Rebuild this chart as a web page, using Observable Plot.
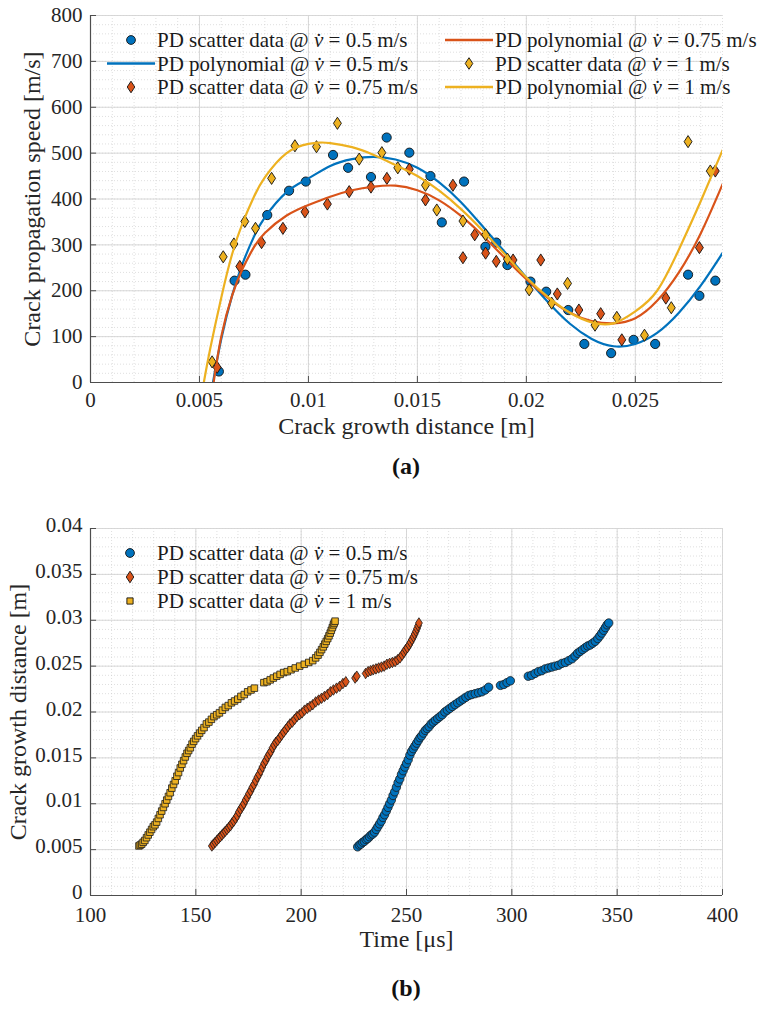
<!DOCTYPE html>
<html><head><meta charset="utf-8">
<script src="https://cdn.jsdelivr.net/npm/d3@7"></script>
<script src="https://cdn.jsdelivr.net/npm/@observablehq/plot@0.6"></script>
<style>
body{margin:0;background:#fff;width:767px;height:1015px;position:relative;overflow:hidden;font-family:"Liberation Serif",serif;}
.panel{position:absolute;left:0;}
.cap{position:absolute;left:0;width:812px;text-align:center;font:bold 24px "Liberation Serif",serif;color:#111;line-height:28px;}
</style></head><body>
<div id="pa" class="panel" style="top:0px"></div>
<div class="cap" style="top:452px">(a)</div>
<div id="pb" class="panel" style="top:500px"></div>
<div class="cap" style="top:974px">(b)</div>
<script>
// ---------- (a) Crack propagation speed vs crack growth distance ----------
const aScatter05 = [[0.00589,24],[0.00661,222],[0.00711,235],[0.00811,365],[0.00911,418],[0.00988,438],[0.01113,496],[0.01182,468],[0.01287,448],[0.01359,534],[0.01463,501],[0.0156,450],[0.01612,349],[0.01714,438],[0.01812,296],[0.01862,305],[0.01913,256],[0.02019,220],[0.02091,198],[0.02192,158],[0.02266,84],[0.02389,64],[0.02492,93],[0.02591,84],[0.02742,235],[0.02794,189],[0.02867,222]];
const aScatter075 = [[0.00581,33],[0.00685,253],[0.00785,305],[0.00883,336],[0.00984,372],[0.01087,389],[0.01187,416],[0.01287,426],[0.0136,445],[0.01463,465],[0.01537,398],[0.01663,430],[0.01709,272],[0.01763,322],[0.01813,282],[0.01862,264],[0.01939,267],[0.02066,267],[0.02142,193],[0.02241,158],[0.02341,150],[0.02438,93],[0.0264,184],[0.02794,294],[0.02867,461]];
const aScatter1 = [[0.00558,45],[0.00609,274],[0.00658,302],[0.00708,351],[0.00757,336],[0.00831,445],[0.00938,516],[0.01037,514],[0.01133,565],[0.01233,487],[0.01337,501],[0.0141,468],[0.01537,430],[0.01589,376],[0.01709,352],[0.01813,322],[0.01913,269],[0.02013,202],[0.02116,173],[0.02189,216],[0.02315,125],[0.02415,142],[0.02542,103],[0.02665,163],[0.02742,525],[0.02844,461]];

const aPoly05X = [0.00562,0.006,0.0065,0.007,0.0075,0.008,0.009,0.01,0.011,0.012,0.013,0.014,0.015,0.016,0.017,0.018,0.019,0.02,0.021,0.022,0.023,0.024,0.025,0.026,0.027,0.028,0.029];
const aPoly05V = [0,95,190,262,318,360,415,445,472,487,492,486,468,436,393,340,285,229,175,128,95,79,84,108,152,211,282];
const aPoly075X = [0.00565,0.006,0.0065,0.007,0.0075,0.008,0.009,0.01,0.011,0.012,0.013,0.014,0.015,0.016,0.017,0.018,0.019,0.02,0.021,0.022,0.023,0.024,0.025,0.026,0.027,0.028,0.029];
const aPoly075V = [0,100,190,250,295,326,364,387,405,419,427,429,419,397,363,320,272,225,184,152,134,129,140,178,240,325,432];
const aPoly1X = [0.0052,0.0055,0.006,0.0065,0.007,0.0075,0.008,0.009,0.01,0.0105,0.011,0.012,0.013,0.014,0.015,0.016,0.017,0.018,0.019,0.02,0.021,0.022,0.023,0.024,0.025,0.026,0.027,0.028,0.029];
const aPoly1V = [0,75,185,280,350,405,447,500,520,523,522,513,496,474,450,418,378,331,280,229,186,152,131,129,155,200,290,395,506];

const aTickX = [0,0.005,0.01,0.015,0.02,0.025];
const aTickXLabels = ["0","0.005","0.01","0.015","0.02","0.025"];
const aTickY = [0,100,200,300,400,500,600,700,800];
const aTickYLabels = ["0","100","200","300","400","500","600","700","800"];

// ---------- (b) Crack growth distance vs time ----------
const bScatter05 = [[226.8,0.0053],[227.6,0.0055],[228.4,0.0056],[229.2,0.0058],[230.0,0.0059],[230.8,0.0061],[231.6,0.0062],[232.4,0.0064],[233.2,0.0066],[234.0,0.0067],[234.8,0.0069],[235.6,0.0072],[236.4,0.0075],[237.2,0.0078],[238.0,0.0081],[238.8,0.0085],[239.6,0.0088],[240.4,0.0092],[241.2,0.0096],[242.0,0.0100],[242.8,0.0104],[243.6,0.0109],[244.4,0.0113],[245.2,0.0118],[246.0,0.0123],[246.8,0.0127],[247.6,0.0132],[248.4,0.0136],[249.2,0.0140],[250.0,0.0144],[250.8,0.0148],[251.6,0.0153],[252.4,0.0157],[253.2,0.0160],[254.0,0.0163],[254.8,0.0166],[255.6,0.0169],[256.4,0.0172],[257.2,0.0174],[258.0,0.0177],[258.9,0.0180],[259.8,0.0182],[260.7,0.0184],[261.7,0.0187],[262.7,0.0189],[263.7,0.0191],[264.8,0.0193],[265.9,0.0195],[267.0,0.0197],[268.2,0.0200],[269.4,0.0202],[270.6,0.0204],[271.8,0.0206],[273.0,0.0208],[274.3,0.0210],[275.6,0.0212],[276.9,0.0214],[278.2,0.0216],[279.6,0.0218],[281.0,0.0219],[282.6,0.0220],[284.2,0.0221],[285.8,0.0222],[287.4,0.0224],[289.0,0.0227],[294.6,0.0229],[296.2,0.0230],[297.7,0.0232],[299.3,0.0234],[307.8,0.0239],[309.4,0.0240],[311.0,0.0242],[312.6,0.0244],[314.2,0.0245],[315.8,0.0247],[317.4,0.0248],[319.0,0.0249],[320.6,0.0250],[322.2,0.0251],[323.8,0.0253],[325.4,0.0254],[327.0,0.0256],[328.6,0.0258],[330.0,0.0261],[331.2,0.0264],[332.4,0.0266],[333.6,0.0268],[334.8,0.0270],[336.0,0.0272],[337.2,0.0273],[338.4,0.0275],[339.6,0.0277],[340.8,0.0280],[341.8,0.0283],[342.7,0.0286],[343.6,0.0289],[344.4,0.0292],[345.2,0.0295],[346.0,0.0297]];
const bScatter075 = [[157.6,0.0054],[158.4,0.0056],[159.2,0.0058],[160.0,0.0060],[160.8,0.0062],[161.6,0.0064],[162.4,0.0066],[163.2,0.0068],[164.0,0.0070],[164.8,0.0072],[165.6,0.0074],[166.4,0.0076],[167.2,0.0079],[168.0,0.0081],[168.8,0.0084],[169.6,0.0087],[170.4,0.0091],[171.2,0.0094],[172.0,0.0097],[172.8,0.0100],[173.6,0.0104],[174.4,0.0107],[175.2,0.0111],[176.0,0.0114],[176.8,0.0118],[177.6,0.0121],[178.4,0.0125],[179.2,0.0129],[180.0,0.0132],[180.8,0.0136],[181.6,0.0140],[182.4,0.0144],[183.2,0.0147],[184.0,0.0151],[184.8,0.0154],[185.6,0.0157],[186.4,0.0161],[187.2,0.0164],[188.0,0.0167],[188.9,0.0169],[189.8,0.0172],[190.7,0.0175],[191.7,0.0178],[192.7,0.0181],[193.7,0.0184],[194.7,0.0187],[195.8,0.0189],[196.9,0.0192],[198.0,0.0195],[199.2,0.0197],[200.4,0.0199],[201.6,0.0202],[202.9,0.0204],[204.2,0.0206],[205.5,0.0208],[206.9,0.0211],[208.3,0.0213],[209.7,0.0215],[211.1,0.0217],[212.5,0.0219],[213.9,0.0222],[215.3,0.0224],[216.8,0.0226],[218.3,0.0228],[219.8,0.0231],[221.2,0.0233],[225.6,0.0237],[226.4,0.0239],[230.6,0.0242],[231.8,0.0244],[233.0,0.0245],[234.2,0.0246],[235.5,0.0247],[236.8,0.0248],[238.1,0.0249],[239.4,0.0250],[240.7,0.0252],[242.0,0.0253],[243.3,0.0254],[244.6,0.0255],[245.8,0.0257],[246.9,0.0259],[247.9,0.0262],[248.8,0.0265],[249.6,0.0268],[250.4,0.0270],[251.2,0.0273],[251.9,0.0276],[252.6,0.0279],[253.3,0.0282],[253.9,0.0285],[254.5,0.0288],[255.0,0.0291],[255.5,0.0294],[255.9,0.0297]];
const bScatter1 = [[123.0,0.0054],[123.6,0.0055],[124.3,0.0056],[125.0,0.0058],[125.8,0.0060],[126.6,0.0063],[127.4,0.0066],[128.2,0.0069],[129.0,0.0072],[129.8,0.0075],[130.6,0.0077],[131.4,0.0080],[132.2,0.0084],[133.0,0.0088],[133.8,0.0092],[134.6,0.0096],[135.4,0.0100],[136.2,0.0104],[137.0,0.0108],[137.8,0.0112],[138.6,0.0117],[139.4,0.0121],[140.2,0.0125],[141.0,0.0130],[141.8,0.0134],[142.6,0.0139],[143.4,0.0143],[144.2,0.0147],[145.0,0.0151],[145.8,0.0155],[146.6,0.0158],[147.4,0.0161],[148.2,0.0165],[149.0,0.0168],[149.9,0.0171],[150.8,0.0174],[151.8,0.0177],[152.8,0.0180],[153.9,0.0183],[155.0,0.0187],[156.2,0.0189],[157.4,0.0192],[158.6,0.0195],[159.9,0.0197],[161.2,0.0199],[162.6,0.0202],[164.0,0.0205],[165.4,0.0207],[166.9,0.0210],[168.4,0.0212],[169.9,0.0214],[171.4,0.0217],[173.0,0.0219],[174.6,0.0222],[176.2,0.0224],[177.8,0.0226],[182.3,0.0232],[183.8,0.0233],[185.3,0.0235],[186.8,0.0237],[188.4,0.0239],[190.0,0.0241],[191.7,0.0243],[193.4,0.0244],[195.2,0.0246],[197.2,0.0248],[199.3,0.0250],[201.5,0.0252],[203.6,0.0254],[205.5,0.0256],[206.9,0.0259],[208.0,0.0262],[208.9,0.0265],[209.7,0.0268],[210.5,0.0271],[211.2,0.0274],[211.9,0.0277],[212.6,0.0280],[213.2,0.0283],[213.8,0.0286],[214.3,0.0289],[214.8,0.0292],[215.3,0.0295],[215.7,0.0297],[216.1,0.0299]];

const bTickX = [100,150,200,250,300,350,400];
const bTickXLabels = ["100","150","200","250","300","350","400"];
const bTickY = [0,0.005,0.01,0.015,0.02,0.025,0.03,0.035,0.04];
const bTickYLabels = ["0","0.005","0.01","0.015","0.02","0.025","0.03","0.035","0.04"];

const C05 = "#0072BD", C075 = "#D95319", C1 = "#EDB120";
const FONT = '"Liberation Serif", "Times New Roman", serif';
const AXIS = "#4d4d4d";

const diamond = {draw(ctx, size){const r = Math.sqrt(size/Math.PI); ctx.moveTo(0,-r*1.35); ctx.lineTo(r*0.88,0); ctx.lineTo(0,r*1.35); ctx.lineTo(-r*0.88,0); ctx.closePath();}};

function gridMarks(minX, minY, majX, majY){
  return [
    Plot.gridX(minX, {stroke:"#cccccc", strokeOpacity:0.9, strokeWidth:0.7, strokeDasharray:"1,2"}),
    Plot.gridY(minY, {stroke:"#cccccc", strokeOpacity:0.9, strokeWidth:0.7, strokeDasharray:"1,2"}),
    Plot.gridX(majX, {stroke:"#d4d4d4", strokeOpacity:1, strokeWidth:0.9}),
    Plot.gridY(majY, {stroke:"#d4d4d4", strokeOpacity:1, strokeWidth:0.9})
  ];
}

// ---- panel (a)
const aW = 767, aH = 440, aMT = 15, aMB = 58, aML = 90, aMR = 45;
const aFH = aH - aMT - aMB, aFW = aW - aML - aMR;
const aLabX = new Map(aTickX.map((d,i)=>[d,aTickXLabels[i]]));
const aLabY = new Map(aTickY.map((d,i)=>[d,aTickYLabels[i]]));
const figA = Plot.plot({
  width: aW, height: aH, marginTop: aMT, marginBottom: aMB, marginLeft: aML, marginRight: aMR,
  x: {domain: [0, 0.029]}, y: {domain: [0, 800]},
  style: {fontFamily: FONT, fontSize: "21px", color: "#262626", background: "transparent", overflow: "visible"},
  marks: [
    ...gridMarks(d3.range(0, 0.0291, 0.001), d3.range(0, 801, 20), aTickX, aTickY),
    Plot.ruleX([0], {stroke: AXIS, strokeWidth: 1.2}),
    Plot.ruleY([0], {stroke: AXIS, strokeWidth: 1.2}),
    Plot.tickX(aTickX, {x: d=>d, insetTop: aFH-6, stroke: AXIS}),
    Plot.tickY(aTickY, {y: d=>d, insetRight: aFW-6, stroke: AXIS}),
    Plot.axisX(aTickX, {tickSize: 0, tickPadding: 10, tickFormat: d=>aLabX.get(d), fontSize: 21, label: null}),
    Plot.axisY(aTickY, {tickSize: 0, tickPadding: 8, tickFormat: d=>aLabY.get(d), fontSize: 21, label: null}),
    Plot.text(["Crack growth distance [m]"], {frameAnchor: "bottom", textAnchor: "middle", dy: 51, fontSize: 24, fill: "#262626"}),
    Plot.text(["Crack propagation speed [m/s]"], {frameAnchor: "left", textAnchor: "middle", rotate: -90, dx: -58, fontSize: 24, fill: "#262626"}),
    Plot.dot(aScatter05, {x: d=>d[0], y: d=>d[1], r: 4.6, fill: C05, stroke: "#111", strokeWidth: 0.9}),
    Plot.line(aPoly05X.map((x,i)=>[x,aPoly05V[i]]), {x: d=>d[0], y: d=>d[1], stroke: C05, strokeWidth: 2.2, curve: "natural", clip: true}),
    Plot.dot(aScatter075, {x: d=>d[0], y: d=>d[1], r: 4.5, symbol: diamond, fill: C075, stroke: "#111", strokeWidth: 0.9}),
    Plot.line(aPoly075X.map((x,i)=>[x,aPoly075V[i]]), {x: d=>d[0], y: d=>d[1], stroke: C075, strokeWidth: 2.2, curve: "natural", clip: true}),
    Plot.dot(aScatter1, {x: d=>d[0], y: d=>d[1], r: 4.5, symbol: diamond, fill: C1, stroke: "#111", strokeWidth: 0.9}),
    Plot.line(aPoly1X.map((x,i)=>[x,aPoly1V[i]]), {x: d=>d[0], y: d=>d[1], stroke: C1, strokeWidth: 2.2, curve: "natural", clip: true})
  ]
});
document.getElementById("pa").appendChild(figA);

// ---- panel (b)
const bW = 767, bH = 470, bMT = 28, bMB = 75, bML = 90, bMR = 45;
const bFH = bH - bMT - bMB, bFW = bW - bML - bMR;
const bLabX = new Map(bTickX.map((d,i)=>[d,bTickXLabels[i]]));
const bLabY = new Map(bTickY.map((d,i)=>[d,bTickYLabels[i]]));
const figB = Plot.plot({
  width: bW, height: bH, marginTop: bMT, marginBottom: bMB, marginLeft: bML, marginRight: bMR,
  x: {domain: [100, 400]}, y: {domain: [0, 0.04]},
  style: {fontFamily: FONT, fontSize: "21px", color: "#262626", background: "transparent", overflow: "visible"},
  marks: [
    ...gridMarks(d3.range(100, 401, 10), d3.range(0, 0.0401, 0.001), bTickX, bTickY),
    Plot.ruleX([100], {stroke: AXIS, strokeWidth: 1.2}),
    Plot.ruleY([0], {stroke: AXIS, strokeWidth: 1.2}),
    Plot.tickX(bTickX, {x: d=>d, insetTop: bFH-6, stroke: AXIS}),
    Plot.tickY(bTickY, {y: d=>d, insetRight: bFW-6, stroke: AXIS}),
    Plot.axisX(bTickX, {tickSize: 0, tickPadding: 12, tickFormat: d=>bLabX.get(d), fontSize: 21, label: null}),
    Plot.axisY(bTickY, {tickSize: 0, tickPadding: 8, tickFormat: d=>bLabY.get(d), fontSize: 21, label: null, dy: -3}),
    Plot.text(["Time [μs]"], {frameAnchor: "bottom", textAnchor: "middle", dy: 51, fontSize: 24, fill: "#262626"}),
    Plot.text(["Crack growth distance [m]"], {frameAnchor: "left", textAnchor: "middle", rotate: -90, dx: -72, fontSize: 24, fill: "#262626"}),
    Plot.dot(bScatter05, {x: d=>d[0], y: d=>d[1], r: 4.2, fill: C05, stroke: "#1a1a1a", strokeWidth: 0.8}),
    Plot.dot(bScatter075, {x: d=>d[0], y: d=>d[1], r: 3.9, symbol: diamond, fill: C075, stroke: "#1a1a1a", strokeWidth: 0.8}),
    Plot.dot(bScatter1, {x: d=>d[0], y: d=>d[1], r: 3.7, symbol: "square", fill: C1, stroke: "#1a1a1a", strokeWidth: 0.8})
  ]
});
document.getElementById("pb").appendChild(figB);

// ---- legends (drawn inside the axes, as in the original)
function legendText(g, x, y, pre, post){
  const t = g.append("text").attr("x", x).attr("y", y).attr("dy", "0.35em").attr("text-anchor", "start")
    .attr("font-family", FONT).attr("font-size", 21).attr("fill", "#1a1a1a");
  t.append("tspan").text(pre);
  t.append("tspan").attr("font-style", "italic").text("v\u0307");
  t.append("tspan").text(post);
}
function legendIcon(g, kind, cx, cy, color){
  if (kind === "line") {
    g.append("line").attr("x1", cx-24).attr("x2", cx+24).attr("y1", cy).attr("y2", cy)
      .attr("stroke", color).attr("stroke-width", 2.4);
  } else {
    const type = kind === "circle" ? d3.symbolCircle : kind === "square" ? d3.symbolSquare : diamond;
    const r = kind === "circle" ? 4.4 : kind === "square" ? 3.5 : 4.3;
    g.append("path").attr("d", d3.symbol(type, Math.PI*r*r)()).attr("transform", `translate(${cx},${cy})`)
      .attr("fill", color).attr("stroke", "#111").attr("stroke-width", 0.9);
  }
}
const legA = [
  {kind:"circle", color:C05, col:0, row:0, pre:"PD scatter data @ ", post:" = 0.5 m/s"},
  {kind:"line", color:C05, col:0, row:1, pre:"PD polynomial @ ", post:" = 0.5 m/s"},
  {kind:"diamond", color:C075, col:0, row:2, pre:"PD scatter data @ ", post:" = 0.75 m/s"},
  {kind:"line", color:C075, col:1, row:0, pre:"PD polynomial @ ", post:" = 0.75 m/s"},
  {kind:"diamond", color:C1, col:1, row:1, pre:"PD scatter data @ ", post:" = 1 m/s"},
  {kind:"line", color:C1, col:1, row:2, pre:"PD polynomial @ ", post:" = 1 m/s"}
];
const gA = d3.select(figA).append("g");
const colIcon = [131, 469], colText = [157, 495], rowsA = [40, 63.5, 87];
legA.forEach(it => {
  legendIcon(gA, it.kind, colIcon[it.col], rowsA[it.row], it.color);
  legendText(gA, colText[it.col], rowsA[it.row], it.pre, it.post);
});
const legB = [
  {kind:"circle", color:C05, pre:"PD scatter data @ ", post:" = 0.5 m/s"},
  {kind:"diamond", color:C075, pre:"PD scatter data @ ", post:" = 0.75 m/s"},
  {kind:"square", color:C1, pre:"PD scatter data @ ", post:" = 1 m/s"}
];
const gB = d3.select(figB).append("g");
const rowsB = [53, 77, 101];
legB.forEach((it,i) => {
  legendIcon(gB, it.kind, 130, rowsB[i], it.color);
  legendText(gB, 157, rowsB[i], it.pre, it.post);
});
</script>
</body></html>
